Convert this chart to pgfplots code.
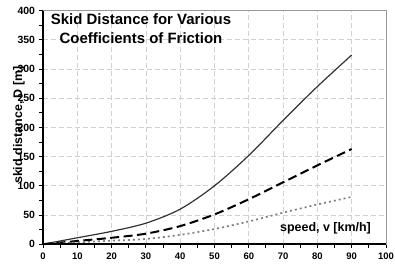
\documentclass[border=0pt]{standalone}
\usepackage{fontspec}
\setmainfont{Liberation Sans}
\usepackage{pgfplots}
\pgfplotsset{compat=1.18}
\definecolor{solidgray}{HTML}{333333}
\definecolor{dotgray}{HTML}{808080}
\definecolor{gridgray}{HTML}{D0D0D0}
\begin{document}
\begin{tikzpicture}
\begin{axis}[
  at={(0,0)}, anchor=south west,
  scale only axis, width=343bp, height=233.6bp,
  xmin=0, xmax=100, ymin=0, ymax=400,
  xtick={0,10,...,100}, ytick={0,50,...,400},
  minor x tick num=1, minor y tick num=1,
  tick pos=left, tick align=outside,
  major tick length=4bp, minor tick length=4bp,
  every tick/.style={black, line width=1pt},
  xmajorgrids, ymajorgrids,
  grid style={draw=gridgray, line width=0.7pt, dash pattern=on 5bp off 3bp},
  axis line style={draw=gray!80, line width=1pt},
  xticklabel style={font=\fontsize{9.5}{10}\selectfont\bfseries, yshift=-1bp},
  yticklabel style={font=\fontsize{10.5}{11}\selectfont\bfseries, xshift=-0.5bp},
  /pgf/number format/assume math mode=true,
  ylabel={skid distance, D [m]},
  ylabel style={at={(rel axis cs:-0.0612,0.51)}, anchor=base, font=\fontsize{12.5}{14}\selectfont\bfseries},
  clip=false,
  after end axis/.code={
    \draw[black, line width=2.5bp] (rel axis cs:0,1) -- (rel axis cs:0,0) -- (rel axis cs:1,0);
  },
]
\addplot[solidgray, line width=1.2bp, smooth] coordinates {
  (0,0) (10,11) (20,22) (30,36) (40,60) (50,100) (60,152) (70,212) (80,270) (90,324)
};
\addplot[black, line width=2bp, smooth, dash pattern=on 9bp off 4.5bp] coordinates {
  (0,0) (10,5.5) (20,11) (30,18) (40,31) (50,51) (60,77) (70,106) (80,135) (90,163)
};
\addplot[dotgray, line width=1.7bp, smooth, dash pattern=on 2bp off 3bp] coordinates {
  (0,0) (10,3) (20,6) (30,9) (40,16) (50,26) (60,39) (70,54) (80,68) (90,81)
};
\node[anchor=base, font=\fontsize{15}{17}\selectfont\bfseries] at (rel axis cs:0.2857,0.9426) {Skid Distance for Various};
\node[anchor=base, font=\fontsize{15}{17}\selectfont\bfseries] at (rel axis cs:0.2857,0.861) {Coefficients of Friction};
\node[anchor=base, font=\fontsize{12.5}{14}\selectfont\bfseries] at (rel axis cs:0.8236,0.0535) {speed, v [km/h]};
\end{axis}
\pgfresetboundingbox
\path[use as bounding box] (-43bp,-21.8bp) rectangle (352bp,244.2bp);
\end{tikzpicture}
\end{document}
